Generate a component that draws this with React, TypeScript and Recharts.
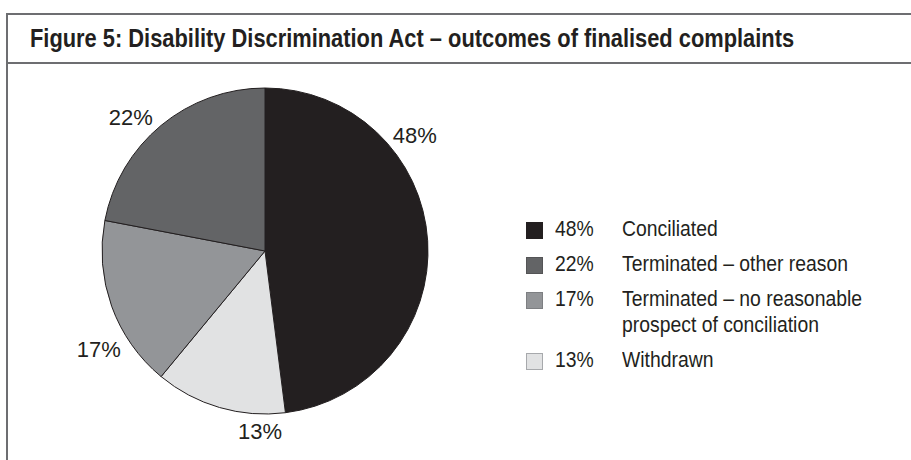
import React from "react";
import { PieChart, Pie, Cell, Legend } from "recharts";

// pie order (clockwise from 12 o'clock)
const outcomes = [
  "Conciliated",
  "Withdrawn",
  "Terminated – no reasonable prospect of conciliation",
  "Terminated – other reason",
];
const shares = [48, 13, 17, 22];
const legendOrder = [0, 3, 2, 1];

const FILLS = ["#231f20", "#e1e2e3", "#939598", "#636466"];
const SWATCH_BORDER = ["#231f20", "#a7a9ac", "#7d7f82", "#545456"];
// label nudges: extra angle (deg) and gap beyond the rim (px)
const LABEL_NUDGE = [
  { turn: 34, gap: 26 },
  { turn: 14.6, gap: 18 },
  { turn: 10.8, gap: 30 },
  { turn: 5.6, gap: 26 },
];

const FONT = '"Liberation Sans", Arial, sans-serif';
const RAD = Math.PI / 180;

const data = outcomes.map((name, i) => ({ name, value: shares[i] }));

const squeeze = (s: number): React.CSSProperties => ({
  display: "inline-block",
  transform: `scaleX(${s})`,
  transformOrigin: "0 50%",
});

function renderLabel(props: any) {
  const { cx, cy, midAngle, outerRadius, index, value } = props;
  const nudge = LABEL_NUDGE[index];
  const a = (midAngle + nudge.turn) * RAD;
  const r = outerRadius + nudge.gap;
  return (
    <text
      x={cx + r * Math.cos(a)}
      y={cy - r * Math.sin(a)}
      textAnchor="middle"
      dominantBaseline="central"
      fontFamily={FONT}
      fontSize={22}
      fill="#231f20"
    >
      {value}%
    </text>
  );
}

function OutcomeLegend() {
  return (
    <div style={{ fontFamily: FONT, fontSize: 22, color: "#231f20", lineHeight: "26px" }}>
      {legendOrder.map((i) => (
        <div key={i} style={{ display: "flex", alignItems: "flex-start", marginBottom: 9 }}>
          <span
            style={{
              width: 15,
              height: 15,
              marginTop: 6,
              background: FILLS[i],
              border: `1px solid ${SWATCH_BORDER[i]}`,
              flex: "none",
            }}
          />
          <span style={{ width: 67, marginLeft: 12, flex: "none" }}>
            <span style={squeeze(0.88)}>{shares[i]}%</span>
          </span>
          <span style={{ width: 280, flex: "none" }}>
            <span style={{ ...squeeze(0.88), width: 300 }}>{outcomes[i]}</span>
          </span>
        </div>
      ))}
    </div>
  );
}

export default function App() {
  return (
    <div
      style={{
        position: "absolute",
        left: 0,
        top: 0,
        width: 911,
        height: 460,
        overflow: "hidden",
        background: "#fff",
      }}
    >
      <div
        style={{
          position: "absolute",
          left: 6,
          top: 13,
          width: 940,
          height: 480,
          border: "2px solid #6d6e71",
          boxSizing: "border-box",
        }}
      />
      <div
        style={{
          position: "absolute",
          left: 6,
          top: 62,
          width: 940,
          height: 2,
          background: "#6d6e71",
        }}
      />
      <div
        style={{
          position: "absolute",
          left: 30,
          top: 26,
          fontFamily: FONT,
          fontWeight: "bold",
          fontSize: 25,
          lineHeight: "25px",
          color: "#231f20",
          whiteSpace: "nowrap",
          ...squeeze(0.874),
        }}
      >
        Figure 5: Disability Discrimination Act – outcomes of finalised complaints
      </div>
      <div style={{ position: "absolute", left: 0, top: 0 }}>
        <PieChart width={911} height={460}>
          <Pie
            data={data}
            dataKey="value"
            nameKey="name"
            cx={260}
            cy={246}
            outerRadius={163}
            startAngle={90}
            endAngle={-270}
            stroke="#231f20"
            strokeWidth={1}
            label={renderLabel}
            labelLine={false}
            isAnimationActive={false}
          >
            {data.map((d, i) => (
              <Cell key={d.name} fill={FILLS[i]} />
            ))}
          </Pie>
          <Legend
            content={() => <OutcomeLegend />}
            layout="vertical"
            wrapperStyle={{ position: "absolute", left: 526, top: 216, width: 370 }}
          />
        </PieChart>
      </div>
    </div>
  );
}
